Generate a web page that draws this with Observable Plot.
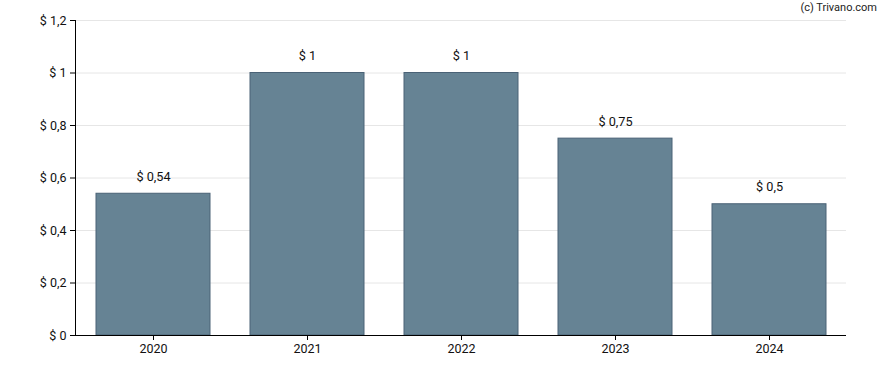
<!DOCTYPE html>
<html><head><meta charset="utf-8">
<script src="https://cdn.jsdelivr.net/npm/d3@7"></script>
<script src="https://cdn.jsdelivr.net/npm/@observablehq/plot@0.6"></script>
<style>
body{margin:0;background:#fff;font-family:Roboto,"Liberation Sans",sans-serif;}
#wrap{position:relative;width:888px;height:370px;}
#credit{position:absolute;right:11px;top:1px;font-size:11px;color:#222;}
</style></head>
<body><div id="wrap"><div id="credit">(c) Trivano.com</div><div id="chart"></div></div>
<script>
const years = ["2020","2021","2022","2023","2024"];
const dividends = [0.54, 1, 1, 0.75, 0.5];
const yTicks = [0, 0.2, 0.4, 0.6, 0.8, 1, 1.2];

const data = years.map((y,i)=>({year:y, value:dividends[i]}));
const fmt = v => "$ " + String(+v.toFixed(2)).replace(".", ",");

const chart = Plot.plot({
  width: 888, height: 370,
  marginLeft: 75, marginRight: 42, marginTop: 20, marginBottom: 35,
  style: {fontFamily: "Roboto, sans-serif", fontSize: "12px", color: "#111", background: "white"},
  x: {domain: years, paddingInner: 0.26, paddingOuter: 0.13, label: null},
  y: {domain: [0, 1.2], label: null},
  marks: [
    Plot.gridY(yTicks, {stroke: "#e6e6e6", strokeOpacity: 1}),
    Plot.barY(data, {x: "year", y: "value", fill: "#668394", stroke: "#4a6276", strokeWidth: 1}),
    Plot.text(data, {x: "year", y: "value", text: d => fmt(d.value), dy: -17, fontSize: 12.7, fill: "#111"}),
    Plot.frame({anchor: "left", stroke: "#000"}),
    Plot.axisY({ticks: yTicks, tickFormat: fmt, tickSize: 5, tickPadding: 4, fontSize: 12.5, stroke: "#000"}),
    Plot.ruleY([0], {stroke: "#000"}),
    Plot.axisX({tickSize: 5, tickPadding: 4, fontSize: 12.5, stroke: "#000"})
  ]
});
document.getElementById("chart").appendChild(chart);
</script>
</body></html>
